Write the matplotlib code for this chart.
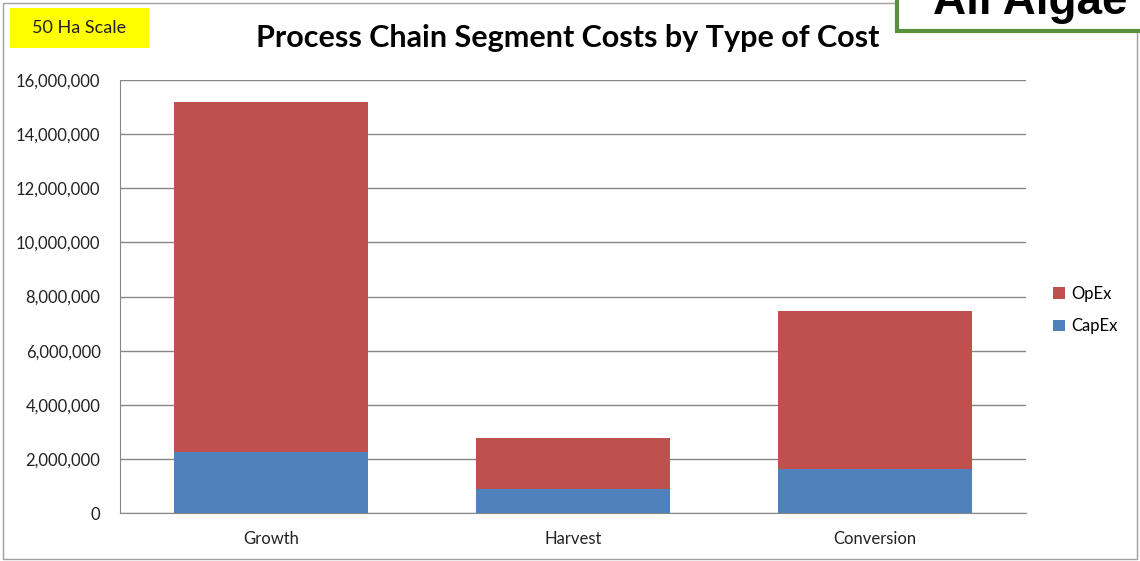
import matplotlib
matplotlib.use("Agg")
import matplotlib.pyplot as plt
from matplotlib.patches import Rectangle
from matplotlib.ticker import FuncFormatter

# data
segments = ["Growth", "Harvest", "Conversion"]
capex = [2250000, 890000, 1630000]
opex_total = [15190000, 2770000, 7460000]
opex = [t - c for t, c in zip(opex_total, capex)]

blue = "#4f81bd"
red = "#c0504d"
grid = "#868686"

plt.rcParams["font.family"] = ["Lato", "DejaVu Sans"]

fig = plt.figure(figsize=(11.4, 5.61), dpi=100)
ax = fig.add_axes([120 / 1140, 1 - 513 / 561, 906 / 1140, 433 / 561])

x = range(len(segments))
ax.bar(x, capex, width=0.645, color=blue, label="CapEx", zorder=3)
ax.bar(x, opex, bottom=capex, width=0.645, color=red, label="OpEx", zorder=3)

ax.set_xlim(-0.5, 2.5)
ax.set_ylim(0, 16000000)
ax.set_yticks(range(0, 16000001, 2000000))
ax.yaxis.set_major_formatter(FuncFormatter(lambda v, p: f"{int(v):,}"))
ax.set_xticks(list(x))
ax.set_xticklabels(segments)
ax.tick_params(axis="both", length=0, labelsize=12, colors="#222222")
ax.tick_params(axis="y", pad=14)
ax.tick_params(axis="x", pad=13)
ax.yaxis.grid(True, color=grid, linewidth=1, zorder=0)
for s in ["top", "right"]:
    ax.spines[s].set_visible(False)
ax.spines["left"].set_color(grid)
ax.spines["bottom"].set_color(grid)

handles, labels = ax.get_legend_handles_labels()
fig.legend(handles[::-1], labels[::-1], loc="center left",
           bbox_to_anchor=(1038 / 1140, 1 - 310 / 561), frameon=False,
           fontsize=12, handlelength=0.7, handleheight=0.7,
           handletextpad=0.4, labelspacing=1.0)

fig.text(568 / 1140, 1 - 38 / 561, "Process Chain Segment Costs by Type of Cost",
         ha="center", va="center", fontsize=22, fontweight="bold")

# outer chart border
fig.patches.append(Rectangle((3 / 1140, 1 - 559 / 561), 1134 / 1140, 556 / 561,
                             transform=fig.transFigure, fill=False,
                             edgecolor="#a0a0a0", linewidth=1))

# yellow label
fig.patches.append(Rectangle((10 / 1140, 1 - 48 / 561), 139 / 1140, 40 / 561,
                             transform=fig.transFigure, facecolor="#ffff00",
                             edgecolor="none"))
fig.text(79 / 1140, 1 - 28 / 561, "50 Ha Scale", ha="center", va="center",
         fontsize=13, color="#222222")

# clipped "All Algae" box in the corner
fig.patches.append(Rectangle((897 / 1140, 1 - 31 / 561), 260 / 1140, 40 / 561,
                             transform=fig.transFigure, facecolor="white",
                             edgecolor="#5a8f3c", linewidth=3))
fig.text(933 / 1140, 1 - 14 / 561, "All Algae", ha="left", va="baseline",
         fontsize=33, fontweight="bold", family=["Liberation Sans", "DejaVu Sans"])

fig.savefig("out.png", dpi=100)
